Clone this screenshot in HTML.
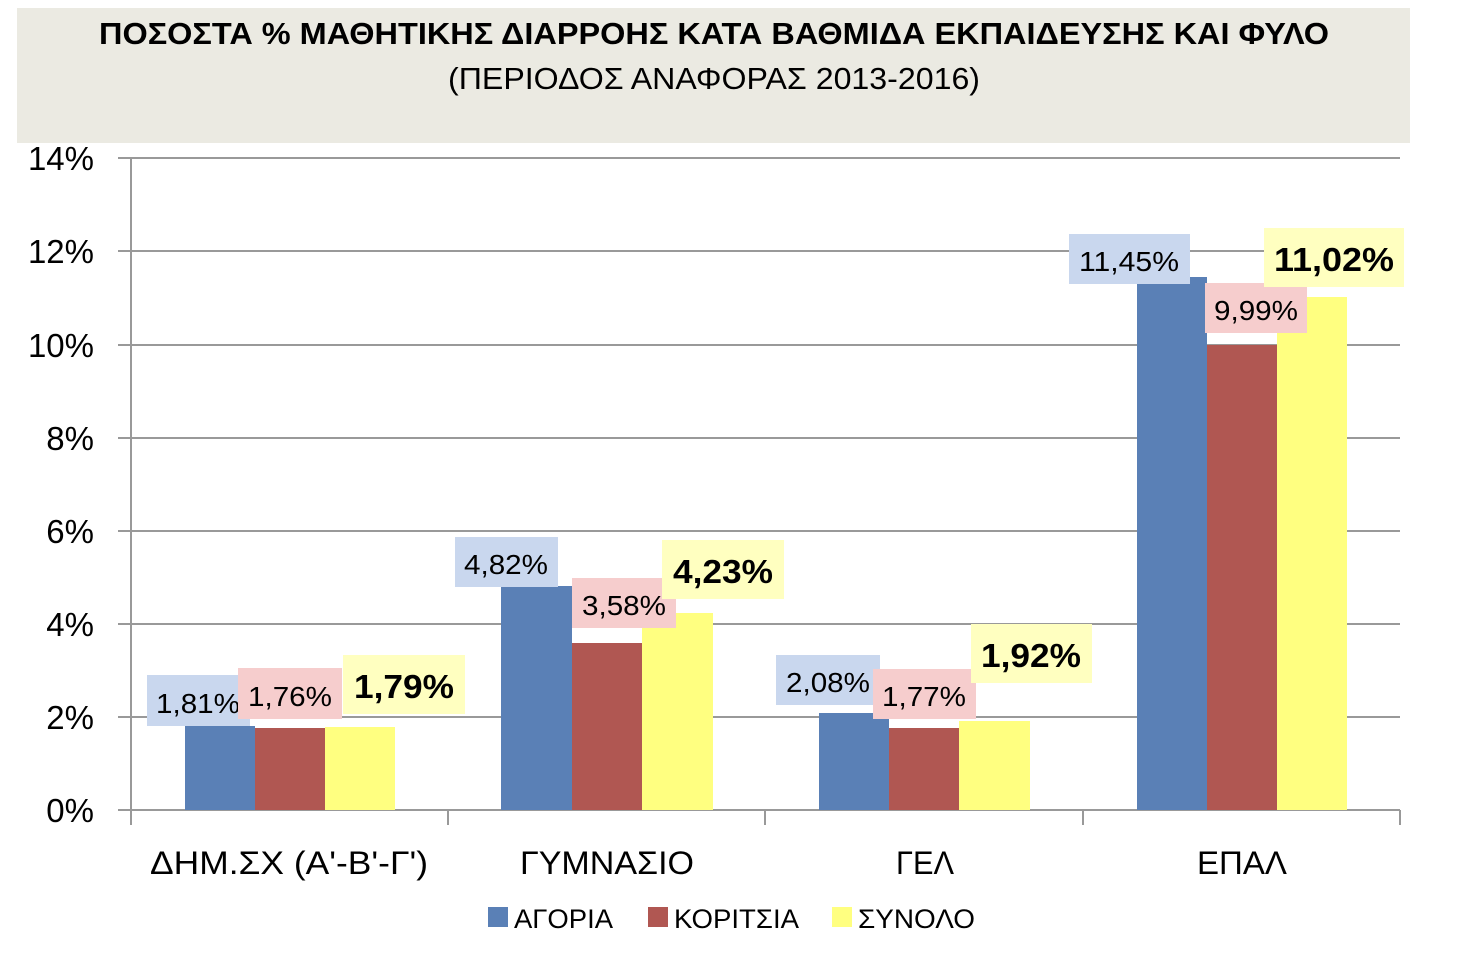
<!DOCTYPE html>
<html><head><meta charset="utf-8"><style>body{margin:0;background:#fff}svg{display:block}text{font-family:"Liberation Sans",sans-serif}</style></head><body>
<svg width="1458" height="960" viewBox="0 0 1458 960">
<rect x="17" y="8" width="1393" height="135" fill="#ebeae2"/>
<text x="714" y="44" font-size="31" font-weight="bold" text-anchor="middle" textLength="1230" lengthAdjust="spacingAndGlyphs">ΠΟΣΟΣΤΑ % ΜΑΘΗΤΙΚΗΣ  ΔΙΑΡΡΟΗΣ ΚΑΤΑ  ΒΑΘΜΙΔΑ  ΕΚΠΑΙΔΕΥΣΗΣ  ΚΑΙ  ΦΥΛΟ</text>
<text x="714" y="89" font-size="31" text-anchor="middle" textLength="532" lengthAdjust="spacingAndGlyphs">(ΠΕΡΙΟΔΟΣ ΑΝΑΦΟΡΑΣ 2013-2016)</text>
<g stroke="#999" stroke-width="2">
<line x1="118" y1="158" x2="1400" y2="158"/><line x1="118" y1="251" x2="1400" y2="251"/><line x1="118" y1="345" x2="1400" y2="345"/><line x1="118" y1="438" x2="1400" y2="438"/><line x1="118" y1="531" x2="1400" y2="531"/><line x1="118" y1="624" x2="1400" y2="624"/><line x1="118" y1="717" x2="1400" y2="717"/><line x1="118" y1="810" x2="1400" y2="810"/>
<line x1="131" y1="158" x2="131" y2="825"/><line x1="448" y1="810" x2="448" y2="825"/><line x1="765" y1="810" x2="765" y2="825"/><line x1="1083" y1="810" x2="1083" y2="825"/><line x1="1400" y1="810" x2="1400" y2="825"/>
</g>
<g font-size="33" text-anchor="end">
<text x="94" y="170">14%</text><text x="94" y="263">12%</text><text x="94" y="357">10%</text><text x="94" y="450">8%</text><text x="94" y="543">6%</text><text x="94" y="636">4%</text><text x="94" y="729">2%</text><text x="94" y="822">0%</text>
</g>
<g>
<rect x="185" y="726" width="70" height="84" fill="#5a80b6"/><rect x="255" y="728" width="70" height="82" fill="#b05752"/><rect x="325" y="727" width="70" height="83" fill="#ffff80"/>
<rect x="501" y="586" width="71" height="224" fill="#5a80b6"/><rect x="572" y="643" width="70" height="167" fill="#b05752"/><rect x="642" y="613" width="71" height="197" fill="#ffff80"/>
<rect x="819" y="713" width="70" height="97" fill="#5a80b6"/><rect x="889" y="728" width="70" height="82" fill="#b05752"/><rect x="959" y="721" width="71" height="89" fill="#ffff80"/>
<rect x="1137" y="277" width="70" height="533" fill="#5a80b6"/><rect x="1207" y="345" width="70" height="465" fill="#b05752"/><rect x="1277" y="297" width="70" height="513" fill="#ffff80"/>
</g>
<g font-size="28" text-anchor="middle">
<rect x="147" y="675" width="103" height="51" fill="#c9d7ee"/><text x="198" y="713" textLength="84" lengthAdjust="spacingAndGlyphs">1,81%</text>
<rect x="238" y="668" width="104" height="51" fill="#f6cdcd"/><text x="290" y="706" textLength="84" lengthAdjust="spacingAndGlyphs">1,76%</text>
<rect x="455" y="537" width="103" height="50" fill="#c9d7ee"/><text x="506" y="574" textLength="84" lengthAdjust="spacingAndGlyphs">4,82%</text>
<rect x="572" y="578" width="104" height="50" fill="#f6cdcd"/><text x="624" y="615" textLength="84" lengthAdjust="spacingAndGlyphs">3,58%</text>
<rect x="776" y="655" width="104" height="50" fill="#c9d7ee"/><text x="828" y="692" textLength="84" lengthAdjust="spacingAndGlyphs">2,08%</text>
<rect x="873" y="669" width="103" height="50" fill="#f6cdcd"/><text x="924" y="706" textLength="84" lengthAdjust="spacingAndGlyphs">1,77%</text>
<rect x="1069" y="234" width="121" height="50" fill="#c9d7ee"/><text x="1129" y="271" textLength="100" lengthAdjust="spacingAndGlyphs">11,45%</text>
<rect x="1205" y="283" width="102" height="50" fill="#f6cdcd"/><text x="1256" y="320" textLength="84" lengthAdjust="spacingAndGlyphs">9,99%</text>
</g>
<g font-size="33" font-weight="bold" text-anchor="middle">
<rect x="343" y="655" width="122" height="59" fill="#ffffc0"/><text x="404" y="698" textLength="100" lengthAdjust="spacingAndGlyphs">1,79%</text>
<rect x="662" y="540" width="122" height="59" fill="#ffffc0"/><text x="723" y="583" textLength="100" lengthAdjust="spacingAndGlyphs">4,23%</text>
<rect x="971" y="624" width="121" height="59" fill="#ffffc0"/><text x="1031" y="667" textLength="100" lengthAdjust="spacingAndGlyphs">1,92%</text>
<rect x="1264" y="228" width="140" height="59" fill="#ffffc0"/><text x="1334" y="271" textLength="120" lengthAdjust="spacingAndGlyphs">11,02%</text>
</g>
<g font-size="32" text-anchor="middle">
<text x="289" y="874" textLength="278" lengthAdjust="spacingAndGlyphs">ΔΗΜ.ΣΧ (Α'-Β'-Γ')</text><text x="607" y="874" textLength="174" lengthAdjust="spacingAndGlyphs">ΓΥΜΝΑΣΙΟ</text><text x="925" y="874" textLength="58" lengthAdjust="spacingAndGlyphs">ΓΕΛ</text><text x="1242" y="874" textLength="90" lengthAdjust="spacingAndGlyphs">ΕΠΑΛ</text>
</g>
<g font-size="27">
<rect x="488" y="907" width="20" height="20" fill="#5a80b6"/><text x="514" y="928" textLength="99" lengthAdjust="spacingAndGlyphs">ΑΓΟΡΙΑ</text>
<rect x="648" y="907" width="20" height="20" fill="#b05752"/><text x="674" y="928" textLength="125" lengthAdjust="spacingAndGlyphs">ΚΟΡΙΤΣΙΑ</text>
<rect x="832" y="907" width="20" height="20" fill="#ffff80"/><text x="858" y="928" textLength="117" lengthAdjust="spacingAndGlyphs">ΣΥΝΟΛΟ</text>
</g>
</svg>
</body></html>
